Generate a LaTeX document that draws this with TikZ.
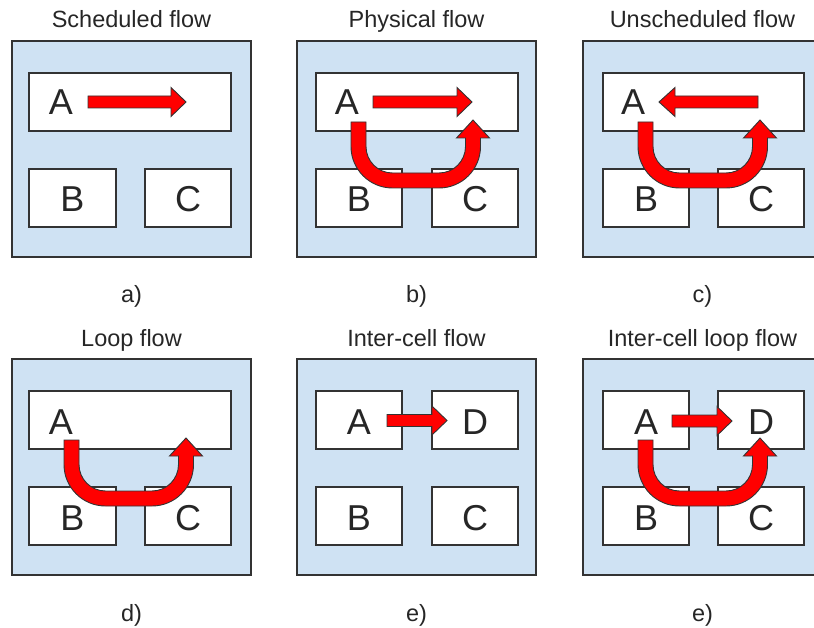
\documentclass[tikz,border=0pt]{standalone}
\usepackage{fontspec}
\setmainfont{Liberation Sans}
\definecolor{panelfill}{HTML}{CFE2F3}
\definecolor{edge}{HTML}{333333}
\definecolor{txt}{HTML}{262626}
\tikzset{
 panel/.style={draw=edge, line width=1.4pt, fill=panelfill, anchor=north west, inner sep=0pt, outer sep=0pt, minimum width=239pt, minimum height=216pt},
 cell/.style={draw=edge, line width=1.3pt, fill=white, anchor=north west, inner sep=0pt, outer sep=0pt, minimum height=58pt},
 letter/.style={font=\fontsize{36}{40}\selectfont, text=txt, anchor=base, inner sep=0pt},
 title/.style={font=\fontsize{23.5}{28}\selectfont, text=txt, anchor=base, inner sep=0pt},
 flow/.style={draw=black!80, line width=0.9pt, fill=red, line join=miter},
}
% straight flow arrow: tail x, head-base x, tip x, y
\newcommand\hflow[4]{\draw[flow] (#1,#4-6) -- (#2,#4-6) -- (#2,#4-14.5) -- (#3,#4) -- (#2,#4+14.5) -- (#2,#4+6) -- (#1,#4+6) -- cycle;}
% U-shaped flow arrow, relative to bottom-left corner of box A
\newcommand\uflow[2]{\begin{scope}[shift={(#1,#2)}]
\draw[flow] (35,-9) -- (35,15.5) .. controls (35,38.42) and (53.58,57) .. (76.5,57) -- (123,57) .. controls (145.92,57) and (164.5,38.42) .. (164.5,15.5) -- (164.5,7) -- (173.5,7) -- (157,-11) -- (140.5,7) -- (149.5,7) -- (149.5,15.5) .. controls (149.5,30.14) and (137.64,42) .. (123,42) -- (76.5,42) .. controls (61.86,42) and (50,30.14) .. (50,15.5) -- (50,-9) -- cycle;
\end{scope}}
\begin{document}
\begin{tikzpicture}[x=1pt,y=-1pt]
\useasboundingbox (0,0) rectangle (814,628);
% ---------- panel a
\node[panel] (pa) at (12,41) {};
\node[cell, minimum width=202pt] (aA) at (29,73) {};
\node[cell, minimum width=87pt] (aB) at (29,169) {};
\node[cell, minimum width=86pt] (aC) at (145,169) {};
\node[letter] (laA) at (61,115) {A};
\node[letter] (laB) at (aB.center |- 0,212) {B};
\node[letter] (laC) at (aC.center |- 0,212) {C};
\hflow{88}{171}{186}{102}
\node[title] (ta) at (131.5,28) {Scheduled flow};
\node[title] (ca) at (131.5,303) {a)};
% ---------- panel b
\node[panel] (pb) at (297,41) {};
\node[cell, minimum width=202pt] (bA) at (316,73) {};
\node[cell, minimum width=86pt] (bB) at (316,169) {};
\node[cell, minimum width=86pt] (bC) at (432,169) {};
\node[letter] (lbA) at (347,115) {A};
\node[letter] (lbB) at (bB.center |- 0,212) {B};
\node[letter] (lbC) at (bC.center |- 0,212) {C};
\hflow{373}{457}{472}{102}
\uflow{316}{131}
\node[title] (tb) at (416.5,28) {Physical flow};
\node[title] (cb) at (416.5,303) {b)};
% ---------- panel c
\node[panel] (pc) at (583,41) {};
\node[cell, minimum width=201pt] (cA) at (603,73) {};
\node[cell, minimum width=86pt] (cB) at (603,169) {};
\node[cell, minimum width=86pt] (cC) at (718,169) {};
\node[letter] (lcA) at (633,115) {A};
\node[letter] (lcB) at (cB.center |- 0,212) {B};
\node[letter] (lcC) at (cC.center |- 0,212) {C};
\hflow{758}{675}{659}{102}
\uflow{603}{131}
\node[title] (tc) at (702.5,28) {Unscheduled flow};
\node[title] (cc) at (702.5,303) {c)};
% ---------- panel d
\node[panel] (pd) at (12,359) {};
\node[cell, minimum width=202pt] (dA) at (29,391) {};
\node[cell, minimum width=87pt] (dB) at (29,487) {};
\node[cell, minimum width=86pt] (dC) at (145,487) {};
\node[letter] (ldA) at (61,434) {A};
\node[letter] (ldB) at (dB.center |- 0,530) {B};
\node[letter] (ldC) at (dC.center |- 0,530) {C};
\uflow{29}{449}
\node[title] (td) at (131.5,346) {Loop flow};
\node[title] (cd) at (131.5,621) {d)};
% ---------- panel e
\node[panel] (pe) at (297,359) {};
\node[cell, minimum width=86pt] (eA) at (316,391) {};
\node[cell, minimum width=86pt] (eD) at (432,391) {};
\node[cell, minimum width=86pt] (eB) at (316,487) {};
\node[cell, minimum width=86pt] (eC) at (432,487) {};
\node[letter] (leA) at (eA.center |- 0,434) {A};
\node[letter] (leD) at (eD.center |- 0,434) {D};
\node[letter] (leB) at (eB.center |- 0,530) {B};
\node[letter] (leC) at (eC.center |- 0,530) {C};
\hflow{387}{432}{447}{420.5}
\node[title] (te) at (416.5,346) {Inter-cell flow};
\node[title] (ce) at (416.5,621) {e)};
% ---------- panel f
\node[panel] (pf) at (583,359) {};
\node[cell, minimum width=86pt] (fA) at (603,391) {};
\node[cell, minimum width=86pt] (fD) at (718,391) {};
\node[cell, minimum width=86pt] (fB) at (603,487) {};
\node[cell, minimum width=86pt] (fC) at (718,487) {};
\node[letter] (lfA) at (fA.center |- 0,434) {A};
\node[letter] (lfD) at (fD.center |- 0,434) {D};
\node[letter] (lfB) at (fB.center |- 0,530) {B};
\node[letter] (lfC) at (fC.center |- 0,530) {C};
\hflow{672}{717}{732}{421}
\uflow{603}{449}
\node[title] (tf) at (702.5,346) {Inter-cell loop flow};
\node[title] (cf) at (702.5,621) {e)};
\end{tikzpicture}
\end{document}
